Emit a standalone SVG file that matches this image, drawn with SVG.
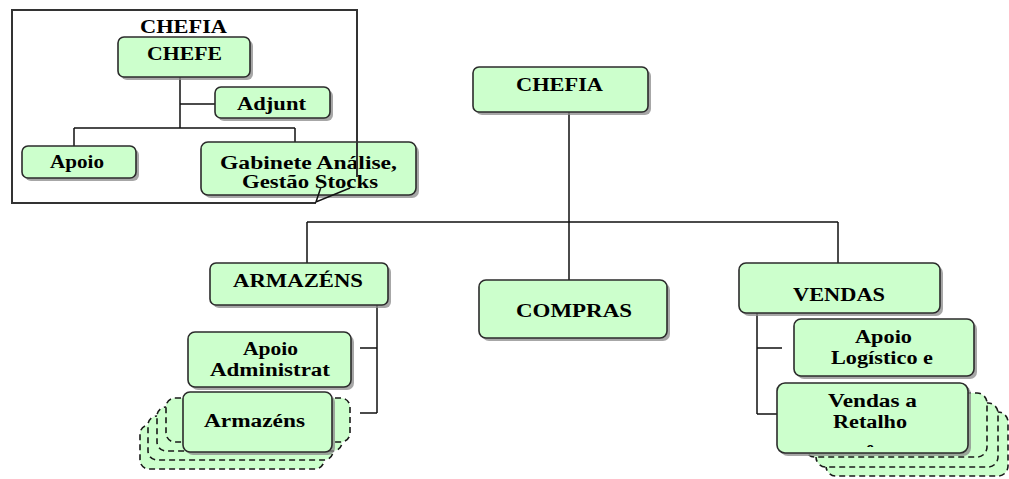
<svg xmlns="http://www.w3.org/2000/svg" width="1009" height="479" viewBox="0 0 1009 479">
<style>
.bg{fill:#ffffff}
.box{fill:#ccffcc;stroke:#2b2b2b;stroke-width:1.6}
.sh{fill:#8a8a8a;opacity:0.75}
.dash{fill:#ccffcc;stroke:#1a1a1a;stroke-width:1.6;stroke-dasharray:6 4}
.ln{fill:none;stroke:#111;stroke-width:1.5}
.brd{fill:none;stroke:#333;stroke-width:2}
.t{font-family:"Liberation Serif","Times New Roman",serif;font-weight:bold;font-size:18px;fill:#000}
</style>
<defs>
<clipPath id="clipVR"><rect x="777" y="383" width="191" height="64"/></clipPath>
</defs>
<rect class="bg" width="1009" height="479"/>

<g id="connectors">
<path class="ln" d="M180,77 V128 M180,104 H215 M74,128 H295 M74,128 V146 M295,128 V143"/>
<path class="ln" d="M569,112 V280 M307,222 H838 M307,222 V263 M838,222 V263"/>
<path class="ln" d="M377,305 V413 M360,348 H377 M360,413 H377"/>
<path class="ln" d="M757,313 V414 M757,348 H782 M757,414 H782"/>
</g>

<g id="inset-title"><text class="t" x="140" y="33" textLength="87" lengthAdjust="spacingAndGlyphs">CHEFIA</text></g>

<g id="chefe">
<rect class="sh" x="121" y="40" width="132" height="40" rx="6"/>
<rect class="box" x="118" y="37" width="132" height="40" rx="6"/>
<text class="t" x="147" y="60" textLength="75" lengthAdjust="spacingAndGlyphs">CHEFE</text>
</g>
<g id="adjunt">
<rect class="sh" x="218" y="90" width="115" height="31" rx="6"/>
<rect class="box" x="215" y="87" width="115" height="31" rx="6"/>
<text class="t" x="237" y="110" textLength="69" lengthAdjust="spacingAndGlyphs">Adjunt</text>
</g>
<g id="apoio-inset">
<rect class="sh" x="25" y="149" width="114" height="32" rx="6"/>
<rect class="box" x="22" y="146" width="114" height="32" rx="6"/>
<text class="t" x="50" y="168" textLength="54" lengthAdjust="spacingAndGlyphs">Apoio</text>
</g>
<g id="gabinete">
<rect class="sh" x="204" y="145" width="215" height="53" rx="7"/>
<rect class="box" x="201" y="142" width="215" height="53" rx="7"/>
<text class="t" x="220" y="169" textLength="177" lengthAdjust="spacingAndGlyphs">Gabinete Análise,</text>
<text class="t" x="242" y="188" textLength="136" lengthAdjust="spacingAndGlyphs">Gestão Stocks</text>
</g>
<g id="inset-border">
<path class="brd" d="M316,203 H12 V10 H357 V177"/>
<path class="ln" d="M321,187 L316,202 L350,188"/>
</g>

<g id="chefia">
<rect class="sh" x="476" y="70" width="175" height="45" rx="6"/>
<rect class="box" x="473" y="67" width="175" height="45" rx="6"/>
<text class="t" x="516" y="91" textLength="87" lengthAdjust="spacingAndGlyphs">CHEFIA</text>
</g>
<g id="compras">
<rect class="sh" x="482" y="283" width="188" height="58" rx="7"/>
<rect class="box" x="479" y="280" width="188" height="58" rx="7"/>
<text class="t" x="516" y="317" textLength="116" lengthAdjust="spacingAndGlyphs">COMPRAS</text>
</g>
<g id="armazens-head">
<rect class="sh" x="213" y="266" width="178" height="42" rx="6"/>
<rect class="box" x="210" y="263" width="178" height="42" rx="6"/>
<text class="t" x="233" y="287" textLength="130" lengthAdjust="spacingAndGlyphs">ARMAZÉNS</text>
</g>
<g id="vendas-head">
<rect class="sh" x="742" y="266" width="201" height="50" rx="7"/>
<rect class="box" x="739" y="263" width="201" height="50" rx="7"/>
<text class="t" x="793" y="301" textLength="92" lengthAdjust="spacingAndGlyphs">VENDAS</text>
</g>
<g id="apoio-admin">
<rect class="sh" x="191" y="335" width="163" height="55" rx="7"/>
<rect class="box" x="188" y="332" width="163" height="55" rx="7"/>
<text class="t" x="243" y="355" textLength="55" lengthAdjust="spacingAndGlyphs">Apoio</text>
<text class="t" x="210" y="376" textLength="120" lengthAdjust="spacingAndGlyphs">Administrat</text>
</g>
<g id="armazens-stack">
<rect class="dash" x="140" y="425" width="184" height="44" rx="9"/>
<rect class="dash" x="148" y="416" width="185" height="44" rx="9"/>
<rect class="dash" x="157" y="407" width="185" height="44" rx="9"/>
<rect class="dash" x="166" y="398" width="184" height="44" rx="9"/>
<rect class="sh" x="186" y="395" width="149" height="60" rx="7"/>
<rect class="box" x="183" y="392" width="149" height="60" rx="7"/>
<text class="t" x="204" y="427" textLength="101" lengthAdjust="spacingAndGlyphs">Armazéns</text>
</g>
<g id="apoio-logistico">
<rect class="sh" x="797" y="322" width="180" height="57" rx="7"/>
<rect class="box" x="794" y="319" width="180" height="57" rx="7"/>
<text class="t" x="855" y="343" textLength="57" lengthAdjust="spacingAndGlyphs">Apoio</text>
<text class="t" x="831" y="364" textLength="102" lengthAdjust="spacingAndGlyphs">Logístico e</text>
</g>
<g id="vendas-retalho">
<rect class="dash" x="826" y="412" width="182" height="64" rx="10"/>
<rect class="dash" x="816" y="403" width="182" height="64" rx="10"/>
<rect class="dash" x="805" y="393" width="182" height="64" rx="10"/>
<rect class="sh" x="780" y="386" width="191" height="70" rx="8"/>
<rect class="box" x="777" y="383" width="191" height="70" rx="8"/>
<text class="t" x="828" y="407" textLength="89" lengthAdjust="spacingAndGlyphs">Vendas a</text>
<text class="t" x="833" y="428" textLength="74" lengthAdjust="spacingAndGlyphs">Retalho</text>
<text class="t" x="866" y="454" clip-path="url(#clipVR)">e</text>
</g>
</svg>
